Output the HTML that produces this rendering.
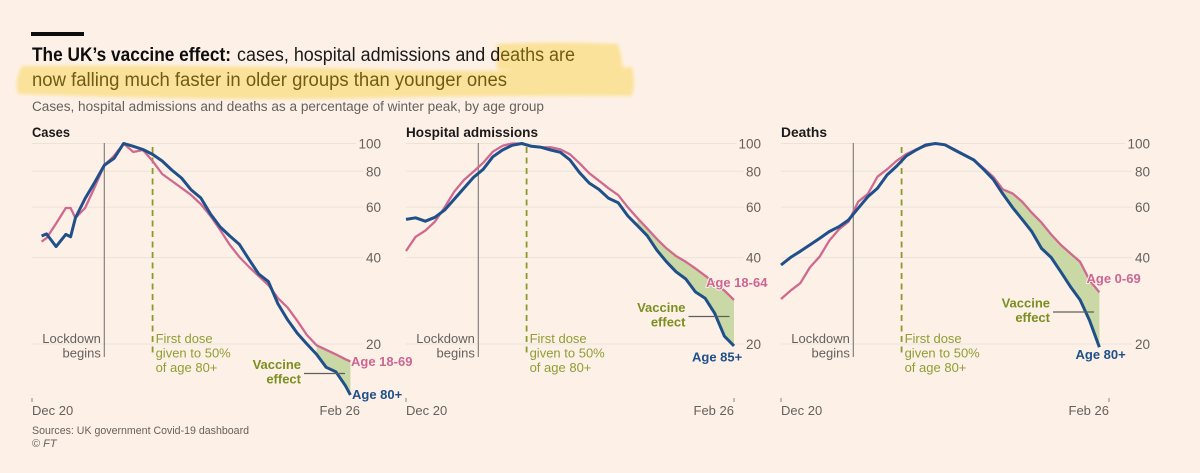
<!DOCTYPE html>
<html lang="en">
<head>
<meta charset="utf-8">
<title>The UK's vaccine effect</title>
<style>
html,body{margin:0;padding:0;background:#fdf1e7}
svg{display:block;font-family:"Liberation Sans",sans-serif}
.lab{paint-order:stroke;stroke:#fdf1e7;stroke-width:2px;stroke-linejoin:round}
</style>
</head>
<body>
<svg id="chart" width="1200" height="473" viewBox="0 0 1200 473" xmlns="http://www.w3.org/2000/svg">
  <defs>
    <filter id="soft-edge" x="-5%" y="-20%" width="110%" height="140%"><feGaussianBlur stdDeviation="1.6"/></filter>
  </defs>
  <rect width="1200" height="473" fill="#fdf1e7"/>
  <rect x="31" y="32" width="53" height="4" fill="#0d0d0d"/>
  <g filter="url(#soft-edge)">
    <path d="M497 44 Q560 41 618 44 Q622 56 623 70 Q560 75 497 69 Q495 56 497 44Z" fill="#fbe29a"/>
    <path d="M22 66 Q200 64 400 70 Q520 72 632 67 Q636 82 632 96 Q500 95 330 99 Q180 100 18 94 Q14 80 22 66Z" fill="#fbe29a"/>
  </g>
  <text x="32" y="61" font-size="19" font-weight="700" fill="#0d0d0d" textLength="199" lengthAdjust="spacingAndGlyphs">The UK’s vaccine effect:</text>
  <text x="237" y="61" font-size="19" fill="#1a1a1a" textLength="338" lengthAdjust="spacingAndGlyphs">cases, hospital admissions and d<tspan fill="#6f5c14">eaths are</tspan></text>
  <text x="32" y="86" font-size="19" fill="#6f5c14" textLength="475" lengthAdjust="spacingAndGlyphs">now falling much faster in older groups than younger ones</text>
  <text x="32" y="111" font-size="13.5" fill="#66605c" textLength="512" lengthAdjust="spacingAndGlyphs">Cases, hospital admissions and deaths as a percentage of winter peak, by age group</text>
  <text x="32" y="434" font-size="11" fill="#66605c" textLength="217" lengthAdjust="spacingAndGlyphs">Sources: UK government Covid-19 dashboard</text>
  <text x="32" y="447" font-size="11" fill="#66605c">© <tspan font-style="italic">FT</tspan></text>
</svg>
<script>
// Chart data (percentage of winter peak, by days since 20 December)
const caseDays = [2,3,5,7,8,9,11,13,15,17,19,21,23,25,27,29,31,33,35,37,39,41,43,45,47,49,51,53,55,57,59,61,63,65,66];
const casesOlder = [47.6,48.4,43.7,48.2,47.3,55.0,64.3,73.2,84.1,88.7,100,97.8,95.3,91.6,86.9,80.8,75.8,68.9,64.6,56.8,51.2,47.6,44.5,39.4,35.1,33.0,27.6,24.3,21.8,20,18.4,16.6,16.0,14.3,13.3];
const casesYounger = [45.5,46.8,52.6,59.6,59.6,55.0,59.6,70.5,84.1,90.5,100,93.4,94.9,86.9,78.3,74.0,70.0,66.1,61.5,55.9,50.0,44.3,40.2,37.1,34.5,32.1,28.9,26.8,24.1,21.5,19.8,19.1,18.4,17.7,17.4];

const admissionDays = [0,2,4,6,8,10,12,14,16,18,20,22,24,26,28,30,32,34,36,38,40,42,44,46,48,50,52,54,56,58,60,62,64,66,68];
const admissionsOlder = [54.4,55.1,53.6,55.3,58.6,63.9,69.8,76.2,81.3,89.9,94.9,98.6,100,97.8,97.0,94.9,93.2,87.6,79.1,72.8,69.2,64.4,62.2,55.9,51.7,47.7,42.5,38.7,35.7,33.7,30.4,28.9,25.6,21.3,19.7];
const admissionsYounger = [42.2,47.3,49.7,53.4,59.9,67.9,74.6,79.8,85.7,93.6,98.2,100,100,98.0,97.0,97.0,95.4,91.7,85.3,78.7,74.2,69.8,66.1,59.9,54.9,50.6,46.5,43.1,40.5,38.7,36.7,34.6,32.7,30.7,28.5];

const deathDays = [0,2,4,6,8,10,12,14,16,18,20,22,24,26,28,30,32,34,36,38,40,42,44,46,48,50,52,54,56,58,60,62,64,66];
const deathsOlder = [37.7,40.1,42.1,44.3,46.7,49.3,51.3,54.1,59.5,65.2,69.8,77.7,83.5,90.5,94.9,98.8,100,99.0,94.9,91.2,87.6,81.3,75.0,66.7,59.9,54.4,49.3,43.1,40.1,35.7,31.7,28.5,24.1,19.5];
const deathsYounger = [28.7,30.7,32.6,37.0,40.3,45.8,50.2,53.4,62.7,66.7,76.6,81.3,87.1,91.9,95.4,98.0,100,99.0,95.4,91.2,87.6,82.0,76.6,69.2,67.0,62.7,57.4,53.0,48.2,44.3,41.4,38.7,33.3,30.3];

const yTickValues = [100,80,60,40,20];
const xTickDays = [0,68];
const xTickLabels = ['Dec 20','Feb 26'];
const lockdownDay = 15;
const firstDoseDay = 25;

// Axis functions
const PX_PER_DAY = 328 / 68;
const Y_TOP = 143.5;
const PX_PER_LOG = 124.6;
function xScale(left, day) { return left + day * PX_PER_DAY; }
function yScale(value) { return Y_TOP + PX_PER_LOG * Math.log(100 / value); }

const svg = document.getElementById('chart');
const NS = 'http://www.w3.org/2000/svg';
function make(tag, attrs, parent, content) {
  const el = document.createElementNS(NS, tag);
  for (const k in attrs) el.setAttribute(k, attrs[k]);
  if (content !== undefined) el.textContent = content;
  parent.appendChild(el);
  return el;
}
function linePath(left, days, vals) {
  return days.map((d, i) => (i ? 'L' : 'M') + xScale(left, d).toFixed(1) + ' ' + yScale(vals[i]).toFixed(1)).join('');
}

function drawPanel(p) {
  const g = make('g', {}, svg);
  
  

  const title = make('text', {x: p.left, y: 137, 'font-size': 14, 'font-weight': 700, fill: '#1a1a1a', textLength: p.titleWidth, lengthAdjust: 'spacingAndGlyphs'}, g, p.title);
  
  

  yTickValues.forEach(v => {
    const label = String(v);
    const labelLeft = p.axisRight - label.length * 7.3;
    const grid = make('line', {x1: p.left, x2: labelLeft - 3, y1: yScale(v), y2: yScale(v), stroke: '#ece2d8', 'stroke-width': 1}, g);
    
    
    const t = make('text', {x: p.axisRight, y: yScale(v) + 5, 'text-anchor': 'end', 'font-size': 13.5, fill: '#66605c'}, g, label);
    
    
  });

  xTickDays.forEach((d, i) => {
    if (!(p.hideLastTick && i === 1)) {
      const tick = make('line', {x1: xScale(p.left, d), x2: xScale(p.left, d), y1: 398, y2: 402, stroke: '#8a8583', 'stroke-width': 1}, g);
      
      
    }
    const t = make('text', {x: xScale(p.left, d), y: 415, 'text-anchor': i ? 'end' : 'start', 'font-size': 13, fill: '#66605c'}, g, xTickLabels[i]);
    
    
  });

  const lx = xScale(p.left, lockdownDay);
  const lock = make('line', {x1: lx, x2: lx, y1: 143, y2: 357, stroke: '#8f8a88', 'stroke-width': 1.3}, g);
  
  
  const dx = xScale(p.left, firstDoseDay);
  const dose = make('line', {x1: dx, x2: dx, y1: 147, y2: 357, stroke: '#8b9a2c', 'stroke-width': 1.8, 'stroke-dasharray': '6 4.5'}, g);
  
  

  ['Lockdown', 'begins'].forEach((s, i) => {
    const t = make('text', {x: lx - 3.5, y: 343 + i * 14.5, 'text-anchor': 'end', 'font-size': 13, fill: '#66605c'}, g, s);
    
    
  });
  ['First dose', 'given to 50%', 'of age 80+'].forEach((s, i) => {
    const t = make('text', {x: dx + 3, y: 343 + i * 14.5, 'font-size': 13, fill: '#8f9d34'}, g, s);
    
    
  });

  const idx = p.days.map((d, i) => i).filter(i => p.days[i] >= p.effectFrom);
  const fwd = idx.map(i => xScale(p.left, p.days[i]).toFixed(1) + ',' + yScale(p.younger[i]).toFixed(1));
  const back = idx.slice().reverse().map(i => xScale(p.left, p.days[i]).toFixed(1) + ',' + yScale(p.older[i]).toFixed(1));
  const area = make('polygon', {points: fwd.concat(back).join(' '), fill: '#c9d8a4'}, g);
  
  

  const pink = make('path', {d: linePath(p.left, p.days, p.younger), fill: 'none', stroke: '#d0698f', 'stroke-width': 2.3, 'stroke-linejoin': 'round'}, g);
  
  
  const blue = make('path', {d: linePath(p.left, p.days, p.older), fill: 'none', stroke: '#20508a', 'stroke-width': 3, 'stroke-linejoin': 'round'}, g);
  
  

  ['Vaccine', 'effect'].forEach((s, i) => {
    const t = make('text', {x: p.effectTextRight, y: p.effectTextY + i * 14.5, 'text-anchor': 'end', 'font-size': 13, 'font-weight': 700, fill: '#7b8f20'}, g, s);
    
    
  });
  const lead = make('line', {x1: p.effectTextRight + 3, x2: p.effectTextRight + 44, y1: p.effectTextY + 4.5, y2: p.effectTextY + 4.5, stroke: '#5f5f5c', 'stroke-width': 1.3}, g);
  
  

  const yl = make('text', {class: 'lab', x: p.youngLabelX, y: p.youngLabelY, 'font-size': 13, 'font-weight': 700, fill: '#cc6592'}, g, p.youngLabel);
  
  
  const ol = make('text', {class: 'lab', x: p.oldLabelX, y: p.oldLabelY, 'font-size': 13, 'font-weight': 700, fill: '#20508a'}, g, p.oldLabel);
  
  
}

drawPanel({key: 'cases', title: 'Cases', titleWidth: 38, left: 32, axisRight: 381, hideLastTick: true,
  days: caseDays, older: casesOlder, younger: casesYounger, effectFrom: 59,
  effectTextRight: 301, effectTextY: 369,
  youngLabel: 'Age 18-69', youngLabelX: 351, youngLabelY: 366,
  oldLabel: 'Age 80+', oldLabelX: 352, oldLabelY: 399});
drawPanel({key: 'hospital', title: 'Hospital admissions', titleWidth: 132, left: 406, axisRight: 761, hideLastTick: false,
  days: admissionDays, older: admissionsOlder, younger: admissionsYounger, effectFrom: 48,
  effectTextRight: 685.5, effectTextY: 312,
  youngLabel: 'Age 18-64', youngLabelX: 706, youngLabelY: 287,
  oldLabel: 'Age 85+', oldLabelX: 692, oldLabelY: 361.5});
drawPanel({key: 'deaths', title: 'Deaths', titleWidth: 46, left: 781, axisRight: 1150, hideLastTick: false,
  days: deathDays, older: deathsOlder, younger: deathsYounger, effectFrom: 46,
  effectTextRight: 1050, effectTextY: 307.5,
  youngLabel: 'Age 0-69', youngLabelX: 1086.5, youngLabelY: 283,
  oldLabel: 'Age 80+', oldLabelX: 1075.5, oldLabelY: 359});
</script>
</body>
</html>
